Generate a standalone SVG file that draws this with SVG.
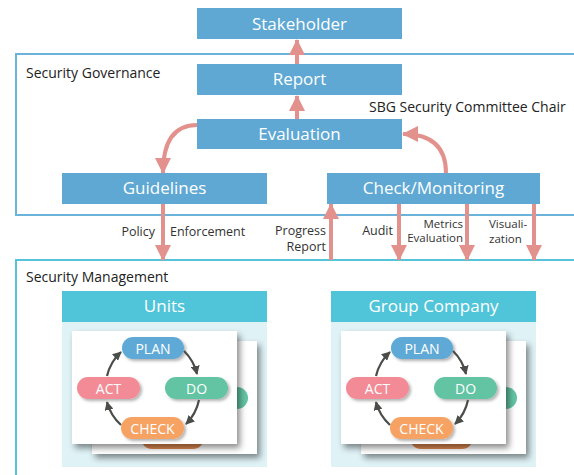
<svg xmlns="http://www.w3.org/2000/svg" width="574" height="475" viewBox="0 0 574 475">
<defs>
<style>
.box{fill:#5ea8d3}
.hdr{fill:#50c4d8}
.bt{font-family:"Open Sans","Liberation Sans",sans-serif;font-size:17px;fill:#fff;text-anchor:middle}
.lbl{font-family:"Open Sans","Liberation Sans",sans-serif;font-size:14px;fill:#222}
.el{font-family:"Open Sans","Liberation Sans",sans-serif;font-size:12.5px;fill:#333}
.el2{font-family:"Open Sans","Liberation Sans",sans-serif;font-size:11.5px;fill:#333}
.arr{fill:none;stroke:#e3918c;stroke-width:4;marker-end:url(#ah)}
.pd{fill:none;stroke:#4a4d48;stroke-width:2.2;marker-end:url(#ph)}
.pt{font-family:"Open Sans","Liberation Sans",sans-serif;font-size:14px;fill:#fff;text-anchor:middle}
.card{fill:#fff;filter:url(#sh)}
.pill{filter:url(#ps)}
</style>
<marker id="ah" viewBox="0 0 16 16" refX="15" refY="8" markerWidth="16" markerHeight="16" markerUnits="userSpaceOnUse" orient="auto">
<path d="M0,0 L16,8 L0,16 z" fill="#e3918c"/>
</marker>
<marker id="ph" viewBox="0 0 10 10" refX="9" refY="5" markerWidth="9" markerHeight="9" markerUnits="userSpaceOnUse" orient="auto">
<path d="M0,0 L10,5 L0,10 z" fill="#4a4d48"/>
</marker>
<filter id="sh" x="-20%" y="-20%" width="150%" height="150%">
<feDropShadow dx="3" dy="4" stdDeviation="3" flood-color="#000" flood-opacity="0.45"/>
</filter>
<filter id="ps" x="-20%" y="-30%" width="150%" height="180%">
<feDropShadow dx="2" dy="2" stdDeviation="1.5" flood-color="#000" flood-opacity="0.3"/>
</filter>
<g id="pdca">
<rect x="0" y="0" width="165" height="113" class="card"/>
<rect x="50" y="6" width="62" height="22" rx="11" fill="#5ea9d6" class="pill"/>
<rect x="93" y="46" width="63" height="22" rx="11" fill="#62c4a3" class="pill"/>
<rect x="5" y="46" width="63" height="22" rx="11" fill="#f28b96" class="pill"/>
<rect x="49" y="86" width="63" height="22" rx="11" fill="#f6a264" class="pill"/>
<text x="81" y="22.5" class="pt">PLAN</text>
<text x="124.5" y="62.5" class="pt">DO</text>
<text x="36.5" y="62.5" class="pt">ACT</text>
<text x="80.5" y="102.5" class="pt">CHECK</text>
<path d="M112,20 A47,47 0 0 1 125,43" class="pd"/>
<path d="M127,69 A47,47 0 0 1 114,93" class="pd"/>
<path d="M49,94 A47,47 0 0 1 35,71" class="pd"/>
<path d="M35,45 A47,47 0 0 1 49,21" class="pd"/>
</g>
<g id="backcard">
<rect x="0" y="0" width="165" height="113" class="card"/>
<rect x="93" y="46" width="63" height="22" rx="11" fill="#62c4a3"/>
<rect x="49" y="86" width="63" height="22" rx="11" fill="#e08a50"/>
</g>
</defs>
<rect width="574" height="475" fill="#fff"/>

<g id="governance">
<rect x="16" y="54" width="570" height="161" fill="none" stroke="#6cb3dc" stroke-width="2"/>
<text x="26" y="78" class="lbl">Security Governance</text>
</g>
<g id="management">
<rect x="16" y="260" width="570" height="230" fill="none" stroke="#55c4d8" stroke-width="2"/>
<text x="26" y="282" class="lbl">Security Management</text>
</g>
<text x="369" y="112" class="lbl">SBG Security Committee Chair</text>

<g id="stakeholder"><rect x="197" y="8" width="205" height="31" class="box"/><text x="299.5" y="29.5" class="bt">Stakeholder</text></g>
<g id="report"><rect x="197" y="64" width="205" height="31" class="box"/><text x="299.5" y="85" class="bt">Report</text></g>
<g id="evaluation"><rect x="197" y="119" width="205" height="30" class="box"/><text x="299.5" y="140" class="bt">Evaluation</text></g>
<g id="guidelines"><rect x="62" y="173" width="205" height="31" class="box"/><text x="164.5" y="194" class="bt">Guidelines</text></g>
<g id="check"><rect x="327" y="173" width="213" height="31" class="box"/><text x="433.5" y="194" class="bt">Check/Monitoring</text></g>

<g id="units">
<rect x="62" y="322" width="205" height="145" fill="#dff2f6"/>
<rect x="62" y="291" width="205" height="31" class="hdr"/>
<text x="164.5" y="312" class="bt">Units</text>
<use href="#backcard" x="92" y="341"/>
<use href="#pdca" x="72" y="331"/>
</g>
<g id="group">
<rect x="331" y="322" width="205" height="145" fill="#dff2f6"/>
<rect x="331" y="291" width="205" height="31" class="hdr"/>
<text x="433.5" y="312" class="bt">Group Company</text>
<use href="#backcard" x="361" y="341"/>
<use href="#pdca" x="341" y="331"/>
</g>

<g id="connectors">
<path d="M297,64 L297,40" class="arr"/>
<path d="M297,119 L297,96" class="arr"/>
<path d="M197,125 Q163,125 163,173" class="arr"/>
<path d="M446,173 Q446,134 403,134" class="arr"/>
<path d="M163,204 L163,260" class="arr"/>
<path d="M331,260 L331,204" class="arr"/>
<path d="M399,204 L399,260" class="arr"/>
<path d="M467,204 L467,260" class="arr"/>
<path d="M534,204 L534,260" class="arr"/>
</g>
<g id="edge-labels">
<text x="155" y="236" class="el" text-anchor="end">Policy</text>
<text x="170" y="236" class="el">Enforcement</text>
<text x="326" y="235" class="el" text-anchor="end">Progress</text>
<text x="326" y="251" class="el" text-anchor="end">Report</text>
<text x="393" y="235" class="el" text-anchor="end">Audit</text>
<text x="463" y="228" class="el2" text-anchor="end">Metrics</text>
<text x="463" y="242" class="el2" text-anchor="end">Evaluation</text>
<text x="489" y="228" class="el2">Visuali-</text>
<text x="489" y="243" class="el2">zation</text>
</g>
</svg>
